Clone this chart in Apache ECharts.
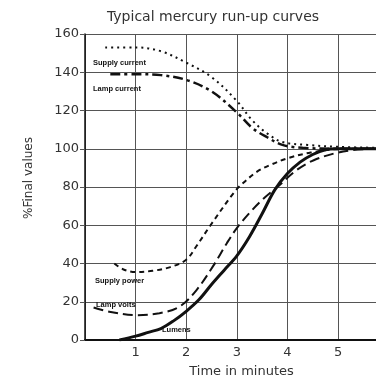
<!DOCTYPE html>
<html>
<head>
<meta charset="utf-8">
<script src="https://cdn.jsdelivr.net/npm/echarts@6/dist/echarts.min.js"></script>
<style>
html,body{margin:0;padding:0;background:#fff;}
#chart{width:376px;height:379px;}
</style>
</head>
<body>
<div id="chart"></div>
<script>
var titleText = 'Typical mercury run-up curves';
var xAxisName = 'Time in minutes';
var yAxisName = '%Final values';
var xRange = [0, 5.75];
var yTicks = [0, 20, 40, 60, 80, 100, 120, 140, 160];

var supplyCurrentT = [0.4, 1, 1.5, 2, 2.5, 3, 3.3, 3.6, 3.9, 4.4, 5, 5.75];
var supplyCurrentV = [153, 153, 151, 145, 137.5, 125, 115, 108, 103.5, 102, 101, 100.5];

var lampCurrentT = [0.5, 1, 1.5, 2, 2.5, 3, 3.3, 3.6, 3.9, 4.3, 5, 5.75];
var lampCurrentV = [139, 139, 138.5, 136, 130, 119, 111, 106, 102, 100.5, 100, 100];

var supplyPowerT = [0.58, 0.75, 1, 1.34, 1.67, 2.0, 2.2, 2.48, 2.94, 3.1, 3.4, 3.66, 4, 4.46, 5, 5.75];
var supplyPowerV = [40, 37, 35.5, 36.2, 38, 42, 49, 60, 77, 81.5, 88, 91.5, 95, 98, 99.8, 100];

var lampVoltsT = [0.17, 0.48, 1, 1.47, 1.87, 2.2, 2.54, 2.8, 3.0, 3.27, 3.53, 3.8, 4.19, 4.52, 4.92, 5.3, 5.75];
var lampVoltsV = [17, 14.8, 13, 14, 17.5, 26, 39, 50.5, 58.5, 67, 74, 80, 89, 94, 97.5, 99.3, 100];

var lumensT = [0.68, 1, 1.25, 1.5, 1.75, 2, 2.25, 2.5, 2.75, 3, 3.25, 3.5, 3.75, 4, 4.25, 4.5, 4.75, 5, 5.75];
var lumensV = [0, 2, 4, 6, 10, 15, 21, 29, 36.5, 44, 54, 66, 78.5, 87, 93, 97, 99.5, 100, 100];

var seriesNames = ['Supply current', 'Lamp current', 'Supply power', 'Lamp volts', 'Lumens'];

function zip(t, v) { return t.map(function (x, i) { return [x, v[i]]; }); }

var chart = echarts.init(document.getElementById('chart'), null, {renderer: 'canvas'});

function mkLine(name, t, v, type, width) {
  return {
    name: name, type: 'line', smooth: 0.35, showSymbol: false, symbol: 'none',
    data: zip(t, v),
    lineStyle: {color: '#111', width: width, type: type, cap: 'butt'},
    z: 5, silent: true
  };
}

var labelFont = {fontFamily: 'Liberation Sans, Arial, sans-serif', fontWeight: 'bold', fontSize: 7.5, fill: '#111'};
function lbl(text, x, y) {
  return {type: 'text', left: x, top: y - 5, style: Object.assign({text: text}, labelFont), z: 10};
}

chart.setOption({
  animation: false,
  backgroundColor: '#fff',
  title: {
    text: titleText, left: 208, top: 5, textAlign: 'center',
    textStyle: {fontFamily: 'DejaVu Sans', fontSize: 14, fontWeight: 'normal', color: '#333'}
  },
  grid: {left: 85, right: 0, top: 34, bottom: 39, containLabel: false, outerBoundsMode: 'none'},
  xAxis: {
    type: 'value', min: xRange[0], max: xRange[1], interval: 1,
    name: xAxisName, nameLocation: 'middle', nameGap: 25,
    nameTextStyle: {fontFamily: 'DejaVu Sans', fontSize: 13, color: '#333', padding: [0, 0, 0, 22]},
    axisLine: {show: true, lineStyle: {color: '#111', width: 2}},
    axisTick: {show: false},
    axisLabel: {
      margin: 6, fontFamily: 'DejaVu Sans', fontSize: 13, color: '#333', showMaxLabel: false,
      formatter: function (v) { return (v === 0 || v % 1 !== 0) ? '' : String(v); }
    },
    splitLine: {show: true, lineStyle: {color: '#555', width: 1}}
  },
  yAxis: {
    type: 'value', min: yTicks[0], max: yTicks[yTicks.length - 1], interval: 20,
    name: yAxisName, nameLocation: 'middle', nameGap: 50,
    nameTextStyle: {fontFamily: 'DejaVu Sans', fontSize: 12, color: '#333', padding: [0, 0, 0, 18]},
    axisLine: {show: true, lineStyle: {color: '#111', width: 1.5}},
    axisTick: {show: true, length: 5, lineStyle: {color: '#555'}},
    axisLabel: {margin: 6, fontFamily: 'DejaVu Sans', fontSize: 13, color: '#333'},
    splitLine: {show: true, lineStyle: {color: '#555', width: 1}}
  },
  series: [
    mkLine(seriesNames[0], supplyCurrentT, supplyCurrentV, [2, 4], 2),
    mkLine(seriesNames[1], lampCurrentT, lampCurrentV, [10, 4, 3, 4], 2.5),
    mkLine(seriesNames[2], supplyPowerT, supplyPowerV, [5, 4], 2),
    mkLine(seriesNames[3], lampVoltsT, lampVoltsV, [10, 5], 2),
    mkLine(seriesNames[4], lumensT, lumensV, 'solid', 3)
  ],
  graphic: [
    lbl(seriesNames[0], 93, 64),
    lbl(seriesNames[1], 93, 90),
    lbl(seriesNames[2], 95, 282),
    lbl(seriesNames[3], 96, 306),
    lbl(seriesNames[4], 162, 331)
  ]
});
</script>
</body>
</html>
